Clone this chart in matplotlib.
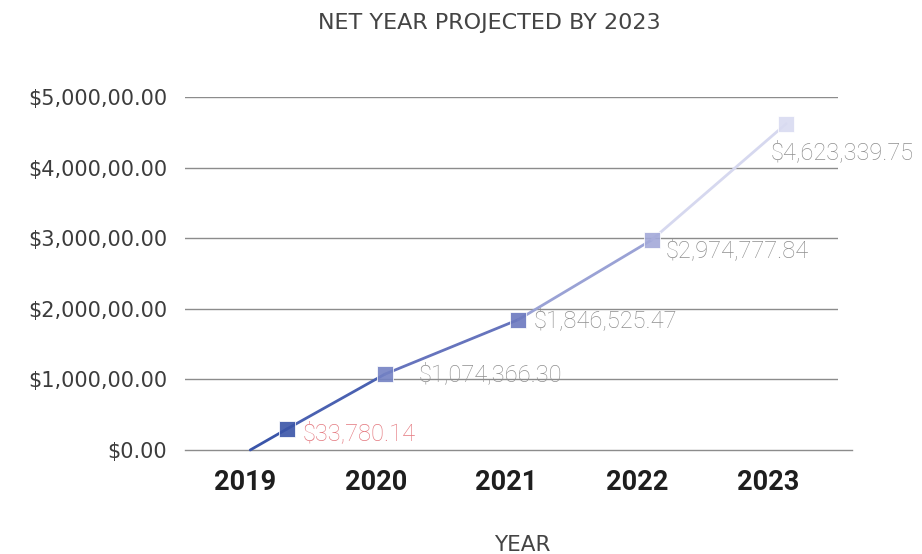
import matplotlib
matplotlib.use("Agg")
import matplotlib.pyplot as plt

# data
years = ["2019", "2020", "2021", "2022", "2023"]
tick_pos = [0, 1, 2, 3, 4]
line_x = [0.04, 0.32, 1.07, 2.09, 3.11, 4.14]  # point positions along the category axis
line_y = [0, 297000, 1074366.30, 1846525.47, 2974777.84, 4623339.75]
point_labels = ["$33,780.14", "$1,074,366.30", "$1,846,525.47", "$2,974,777.84", "$4,623,339.75"]
y_ticks = [0, 1000000, 2000000, 3000000, 4000000, 5000000]
y_ticklabels = ["$0.00", "$1,000,00.00", "$2,000,00.00", "$3,000,00.00", "$4,000,00.00", "$5,000,00.00"]

# style
seg_colors = ["#3a55a9", "#4a61b1", "#6674bd", "#9aa2d5", "#d6d8ef"]
marker_colors = ["#3a54a8", "#7482c4", "#6b78bf", "#a3a9d9", "#d9dbf1"]
label_colors = ["#e4787f", "#8e8e8e", "#8e8e8e", "#8e8e8e", "#8e8e8e"]
label_offsets = [(11, -3), (24, 0), (11, -1), (10, -8), (-11, -21)]

fig = plt.figure(figsize=(9.22, 5.54), dpi=100)
ax = fig.add_axes([185 / 922, 104 / 554, (838 - 185) / 922, 353 / 554])

# gridlines
for yt in y_ticks[1:]:
    ax.axhline(yt, color="#8c8c8c", lw=1, zorder=1)
ax.axhline(0, xmin=0, xmax=(852 - 185) / (838 - 185), color="#8c8c8c", lw=1, clip_on=False, zorder=1)

# line, segment by segment
for i in range(len(line_x) - 1):
    ax.plot(line_x[i:i + 2], line_y[i:i + 2], color=seg_colors[i], lw=2,
            solid_capstyle="round", zorder=2, clip_on=False)

# square markers + labels
for i in range(1, len(line_x)):
    ax.plot(line_x[i], line_y[i], marker="s", ms=11.5, color=marker_colors[i - 1],
            mec="#ffffff", mew=0.6, alpha=0.9, zorder=3, clip_on=False)
    ax.annotate(point_labels[i - 1], (line_x[i], line_y[i]), xytext=label_offsets[i - 1],
                textcoords="offset points", va="center", ha="left",
                color=label_colors[i - 1], fontsize=17, family="Roboto", fontweight="light",
                annotation_clip=False)

ax.set_xlim(-0.459, 4.535)
ax.set_ylim(0, 5000000)
ax.set_xticks(tick_pos)
ax.set_xticklabels(years, fontsize=19.5, fontweight="bold", color="#1e1e1e", family="Roboto")
ax.set_yticks(y_ticks)
ax.set_yticklabels(y_ticklabels, fontsize=15, color="#3c3c3c", family="DejaVu Sans")
ax.tick_params(axis="both", length=0)
ax.tick_params(axis="x", pad=14)
ax.tick_params(axis="y", pad=13)
for s in ax.spines.values():
    s.set_visible(False)

fig.text(489 / 922, 1 - 23 / 554, "NET YEAR PROJECTED BY 2023", ha="center", va="center",
         fontsize=16, color="#444444", family="DejaVu Sans")
fig.text(522 / 922, 1 - 545 / 554, "YEAR", ha="center", va="center",
         fontsize=15.5, color="#444444", family="DejaVu Sans")

fig.savefig("out.png", dpi=100)
